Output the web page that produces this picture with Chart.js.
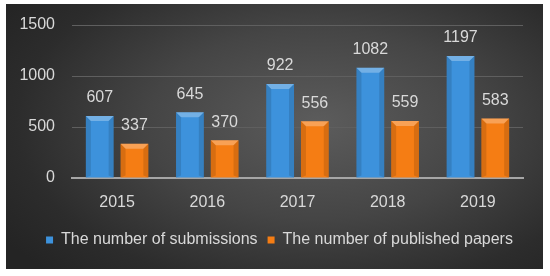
<!DOCTYPE html>
<html><head><meta charset="utf-8">
<script src="https://cdn.jsdelivr.net/npm/chart.js@4/dist/chart.umd.min.js"></script>
<style>
html,body{margin:0;padding:0;background:#fff;width:550px;height:276px;overflow:hidden}
#box{position:absolute;left:6px;top:4px;width:537px;height:265px;
background:radial-gradient(ellipse 70% 80% at 58% 45%, #5c5c5c 0%, #454545 45%, #2c2c2c 80%, #242424 100%);}
canvas{display:block}
</style></head><body>
<div id="box"><canvas id="c" width="537" height="265"></canvas></div>
<script>
const categories = ["2015","2016","2017","2018","2019"];
const submissions = [607, 645, 922, 1082, 1197];
const published = [337, 370, 556, 559, 583];
const yTicks = [0, 500, 1000, 1500];
const seriesNames = ["The number of submissions", "The number of published papers"];

const FONT = "'Liberation Sans', Arial, sans-serif";
const TXT = '#d9d9d9';

const valueLabels = {
  id:'valueLabels',
  afterDatasetsDraw(chart){
    const ctx = chart.ctx;
    ctx.save();
    ctx.font = '16px ' + FONT;
    ctx.fillStyle = TXT;
    ctx.textAlign = 'center';
    ctx.textBaseline = 'middle';
    chart.data.datasets.forEach((ds, i) => {
      chart.getDatasetMeta(i).data.forEach((bar, j) => {
        ctx.fillText(String(ds.data[j]), bar.x, bar.y - 18);
      });
    });
    ctx.restore();
  }
};

const bevel = {
  id:'bevel',
  afterDatasetsDraw(chart){
    const ctx = chart.ctx;
    ctx.save();
    chart.data.datasets.forEach((ds, i) => {
      chart.getDatasetMeta(i).data.forEach((bar) => {
        const l = bar.x - bar.width/2, r = bar.x + bar.width/2, t = bar.y, b = bar.base;
        const d = 5;
        ctx.fillStyle = 'rgba(255,255,255,0.28)';
        ctx.beginPath(); ctx.moveTo(l,t); ctx.lineTo(r,t); ctx.lineTo(r-d,t+d); ctx.lineTo(l+d,t+d); ctx.closePath(); ctx.fill();
        ctx.fillStyle = 'rgba(0,0,0,0.12)';
        ctx.beginPath(); ctx.moveTo(l,t); ctx.lineTo(l+d,t+d); ctx.lineTo(l+d,b-2); ctx.lineTo(l,b); ctx.closePath(); ctx.fill();
        ctx.beginPath(); ctx.moveTo(r,t); ctx.lineTo(r-d,t+d); ctx.lineTo(r-d,b-2); ctx.lineTo(r,b); ctx.closePath(); ctx.fill();
      });
    });
    ctx.restore();
  }
};

const shiftLegend = {
  id:'shiftLegend',
  afterLayout(chart){
    const lg = chart.legend;
    lg.left += 15; lg.right += 15;
    if (lg.legendHitBoxes) lg.legendHitBoxes.forEach(h => { h.left += 15; });
  }
};

new Chart(document.getElementById('c'), {
  type:'bar',
  data:{
    labels: categories,
    datasets:[
      {label: seriesNames[0], data: submissions, backgroundColor:'#3d92dc', borderWidth:0},
      {label: seriesNames[1], data: published, backgroundColor:'#f57d14', borderWidth:0}
    ]
  },
  options:{
    responsive:false,
    animation:false,
    events:[],
    categoryPercentage:0.77,
    barPercentage:0.8,
    layout:{padding:{top:21,right:20,bottom:11,left:0}},
    plugins:{
      tooltip:{enabled:false},
      legend:{
        position:'bottom',
        labels:{color:TXT, font:{size:16, family:FONT}, boxWidth:7, boxHeight:7, padding:10}
      }
    },
    scales:{
      x:{
        grid:{display:false},
        border:{color:'#a6a6a6', width:2},
        ticks:{color:TXT, font:{size:16, family:FONT}, padding:7},
        afterFit(s){ s.height = 44; }
      },
      y:{
        min:0, max:1500,
        afterBuildTicks(s){ s.ticks = yTicks.map(v => ({value:v})); },
        grid:{color:'#5f5f5f', lineWidth:1, drawTicks:false},
        border:{display:false},
        ticks:{color:TXT, font:{size:16, family:FONT}, padding:17, callback:(v)=>String(v)},
        afterFit(s){ s.width = 66; s.paddingTop = 5; s.paddingBottom = 5; }
      }
    }
  },
  plugins:[shiftLegend, bevel, valueLabels]
});
</script>
</body></html>
